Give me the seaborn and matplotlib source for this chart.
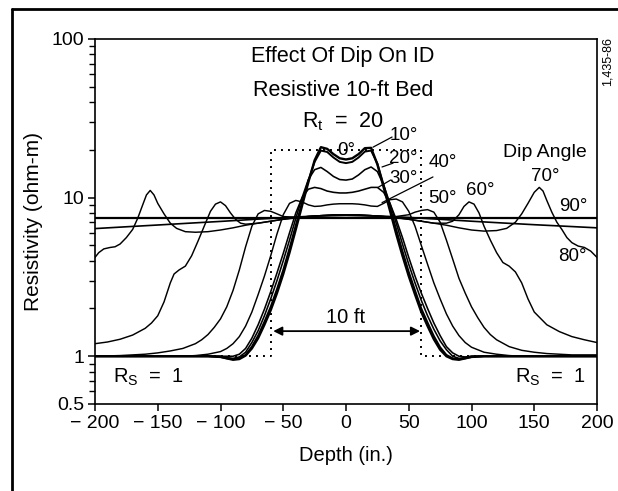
import matplotlib
matplotlib.use('Agg')
import matplotlib.pyplot as plt
import seaborn as sns
import pandas as pd
from matplotlib.ticker import FixedLocator, FixedFormatter, NullFormatter
from matplotlib.lines import Line2D

# ---------------- data ----------------
DEPTH = [-200, -190, -180, -170, -160, -150, -140, -130, -120, -110, -100,
         -95, -90, -85, -80, -75, -70, -65, -60, -55, -50, -45, -40, -35, -30,
         -25, -20, -15, -10, -5, 0, 5, 10, 15, 20, 25, 30, 35, 40, 45, 50, 55,
         60, 65, 70, 75, 80, 85, 90, 95,
         100, 110, 120, 130, 140, 150, 160, 170, 180, 190, 200]

DIP_0 = [1.0] * 10 + [0.99, 0.97, 0.95, 0.96, 1.01, 1.12, 1.3, 1.58, 1.95, 2.5,
         3.3, 4.5, 6.3, 8.9, 12.5, 17.2, 20.8, 20.3, 18.8, 17.7, 17.4, 17.7,
         18.8, 20.5, 20.6, 16.2, 11.6, 8.3, 5.9, 4.3, 3.2, 2.45, 1.9, 1.55,
         1.28, 1.1, 1.0, 0.96, 0.95, 0.97, 0.99] + [1.0] * 10
DIP_10 = [1.0] * 10 + [0.99, 0.97, 0.96, 0.97, 1.02, 1.15, 1.35, 1.65, 2.05,
          2.65, 3.5, 4.8, 6.7, 9.3, 12.8, 16.8, 19.8, 19.4, 17.9, 16.8, 16.5,
          16.8, 17.9, 19.5, 19.8, 16.4, 12.0, 8.7, 6.3, 4.6, 3.4, 2.6, 2.0,
          1.63, 1.34, 1.14, 1.02, 0.97, 0.96, 0.97, 0.99] + [1.0] * 10
DIP_20 = [1.0] * 10 + [1.0, 0.98, 0.97, 0.99, 1.06, 1.22, 1.45, 1.8, 2.3, 3.0,
          4.0, 5.4, 7.4, 10.0, 13.0, 15.0, 15.5, 14.6, 13.6, 13.0, 12.9, 13.1,
          13.9, 15.0, 15.6, 14.6, 12.0, 9.2, 6.9, 5.1, 3.8, 2.9, 2.25, 1.8,
          1.48, 1.25, 1.1, 1.0, 0.97, 0.98, 1.0] + [1.0] * 10
DIP_30 = [1.0] * 10 + [1.0, 1.0, 1.0, 1.03, 1.12, 1.3, 1.58, 1.98, 2.55, 3.35,
          4.45, 6.0, 8.0, 10.0, 11.3, 11.6, 11.4, 11.0, 10.8, 10.7, 10.7,
          10.8, 11.0, 11.3, 11.6, 11.6, 10.8, 9.2, 7.3, 5.6, 4.2, 3.2, 2.5,
          2.0, 1.62, 1.35, 1.15, 1.05, 1.0, 0.99, 1.0] + [1.0] * 10
DIP_40 = [1.0] * 8 + [1.01, 1.03, 1.07, 1.12, 1.2, 1.33, 1.55, 1.9, 2.45, 3.2,
          4.3, 5.9, 7.8, 9.2, 9.6, 9.4, 9.0, 8.8, 8.85, 9.0, 9.1, 9.15, 9.15,
          9.15, 9.1, 9.0, 8.85, 8.8, 9.2, 9.7, 9.8, 9.4, 8.2, 6.6, 5.0, 3.8,
          2.9, 2.3, 1.85, 1.55, 1.35, 1.22, 1.14, 1.06, 1.03, 1.01] + [1.0] * 7

DIP_50 = [(-200, 1.0), (-180, 1.01), (-160, 1.03), (-150, 1.05), (-140, 1.08),
          (-130, 1.12), (-120, 1.2), (-115, 1.27), (-110, 1.37), (-105, 1.52),
          (-100, 1.72), (-95, 2.05), (-90, 2.6), (-85, 3.5), (-80, 4.9),
          (-75, 6.6), (-70, 7.9), (-65, 8.3), (-60, 8.2), (-55, 7.9),
          (-50, 7.6), (-40, 7.5), (-30, 7.6), (-20, 7.7), (-10, 7.8), (0, 7.8),
          (10, 7.8), (20, 7.7), (30, 7.6), (40, 7.6), (50, 7.8), (55, 8.1),
          (60, 8.3), (65, 8.4), (70, 8.1), (75, 7.0), (80, 5.4), (85, 4.1),
          (90, 3.1), (95, 2.5), (100, 2.05), (105, 1.75), (110, 1.52),
          (115, 1.37), (120, 1.27), (130, 1.15), (140, 1.09), (150, 1.06),
          (160, 1.04), (180, 1.02), (200, 1.02)]
DIP_60 = [(-200, 1.2), (-190, 1.23), (-180, 1.28), (-170, 1.36), (-160, 1.5),
          (-155, 1.62), (-150, 1.8), (-145, 2.2), (-140, 2.9), (-137, 3.3),
          (-133, 3.5), (-128, 3.7), (-123, 4.3), (-118, 5.3), (-113, 6.6),
          (-108, 8.2), (-104, 9.1), (-100, 9.4), (-96, 8.9), (-92, 8.0),
          (-88, 7.3), (-84, 6.9), (-80, 6.8), (-70, 6.9), (-60, 7.1),
          (-50, 7.3), (-40, 7.5), (-30, 7.6), (-20, 7.7), (-10, 7.75), (0, 7.8),
          (10, 7.75), (20, 7.7), (30, 7.6), (40, 7.5), (50, 7.3), (60, 7.1),
          (70, 6.9), (80, 6.9), (85, 7.1), (90, 7.8), (94, 8.8), (98, 9.4),
          (102, 9.1), (106, 8.0), (110, 6.6), (115, 5.4), (120, 4.5),
          (125, 3.9), (130, 3.7), (135, 3.4), (140, 2.9), (145, 2.3),
          (150, 1.9), (160, 1.58), (170, 1.43), (180, 1.33), (190, 1.27),
          (200, 1.22)]
DIP_70 = [(-200, 4.2), (-197, 4.5), (-193, 4.75), (-188, 4.85), (-184, 4.9),
          (-180, 5.1), (-175, 5.6), (-170, 6.3), (-166, 7.4), (-162, 9.0),
          (-159, 10.4), (-156, 11.1), (-153, 10.4), (-150, 9.2), (-145, 7.9),
          (-140, 6.9), (-135, 6.4), (-128, 6.1), (-120, 6.05), (-110, 6.1),
          (-100, 6.25), (-90, 6.45), (-80, 6.7), (-70, 6.9), (-60, 7.1),
          (-50, 7.3), (-40, 7.45), (-30, 7.6), (-20, 7.7), (-10, 7.75),
          (0, 7.8), (10, 7.75), (20, 7.7), (30, 7.6), (40, 7.45), (50, 7.3),
          (60, 7.1), (70, 6.9), (80, 6.7), (90, 6.45), (100, 6.25),
          (110, 6.15), (120, 6.2), (128, 6.4), (135, 7.0), (140, 7.9),
          (145, 9.2), (150, 10.8), (154, 11.6), (157, 11.0), (160, 9.6),
          (164, 8.1), (168, 7.0), (172, 6.3), (176, 5.6), (180, 5.2),
          (185, 4.95), (190, 4.85), (195, 4.6), (200, 4.2)]
DIP_80 = [(-200, 6.38), (-175, 6.55), (-150, 6.72), (-125, 6.9), (-100, 7.08),
          (-75, 7.28), (-50, 7.48), (-25, 7.65), (0, 7.72), (25, 7.65),
          (50, 7.5), (75, 7.3), (100, 7.1), (125, 6.92), (150, 6.75),
          (175, 6.6), (200, 6.45)]
DIP_90 = [(-200, 7.45), (200, 7.45)]

BED_DEPTH = [-200, -60, -60, 60, 60, 200]
BED_R = [1, 1, 20, 20, 1, 1]

X_TICKS = [-200, -150, -100, -50, 0, 50, 100, 150, 200]
X_LABELS = ['\u2212 200', '\u2212 150', '\u2212 100', '\u2212 50', '0', '50',
            '100', '150', '200']
Y_TICKS = [0.5, 1, 10, 100]
Y_LABELS = ['0.5', '1', '10', '100']

# ---------------- style ----------------
sns.set_style('ticks')
plt.rcParams['font.family'] = ['Liberation Sans', 'DejaVu Sans']
plt.rcParams['mathtext.fontset'] = 'custom'
plt.rcParams['mathtext.rm'] = 'Liberation Sans'
plt.rcParams['mathtext.it'] = 'Liberation Sans'
plt.rcParams['text.color'] = 'black'
plt.rcParams['axes.labelcolor'] = 'black'
plt.rcParams['xtick.color'] = 'black'
plt.rcParams['ytick.color'] = 'black'

fig = plt.figure(figsize=(6.18, 4.91), dpi=100)
ax = fig.add_axes([95 / 618, 1 - 404 / 491, 502 / 618, 365 / 491])

# curves
grid_curves = [(DIP_0, 1.7), (DIP_10, 1.4), (DIP_20, 1.15), (DIP_30, 1.15),
               (DIP_40, 1.05)]
for vals, lw in grid_curves:
    sns.lineplot(x=DEPTH, y=vals, ax=ax, color='black', lw=lw,
                 sort=False, estimator=None)
pair_curves = [(DIP_50, 1.05), (DIP_60, 1.05), (DIP_70, 1.05), (DIP_80, 1.2),
               (DIP_90, 1.6)]
for pairs, lw in pair_curves:
    xs = [p[0] for p in pairs]
    ys = [p[1] for p in pairs]
    sns.lineplot(x=xs, y=ys, ax=ax, color='black', lw=lw, sort=False,
                 estimator=None)

# bed (true formation) dotted outline
sns.lineplot(x=BED_DEPTH, y=BED_R, ax=ax, color='black', lw=1.4,
             sort=False, estimator=None, linestyle=(0, (1, 2.6)))

ax.set_yscale('log')
ax.set_xlim(-200, 200)
ax.set_ylim(0.5, 100)
ax.xaxis.set_major_locator(FixedLocator(X_TICKS))
ax.xaxis.set_major_formatter(FixedFormatter(X_LABELS))
ax.yaxis.set_major_locator(FixedLocator(Y_TICKS))
ax.yaxis.set_major_formatter(FixedFormatter(Y_LABELS))
ax.yaxis.set_minor_locator(FixedLocator(
    [0.6, 0.7, 0.8, 0.9] + list(range(2, 10)) + list(range(20, 100, 10))))
ax.yaxis.set_minor_formatter(NullFormatter())
ax.tick_params(axis='both', which='major', direction='out', length=5,
               width=1.1, labelsize=14, colors='black', pad=3)
ax.tick_params(axis='y', which='minor', direction='out', length=4, width=1.0,
               colors='black')
for s in ax.spines.values():
    s.set_visible(True)
    s.set_linewidth(1.2)
    s.set_color('black')

ax.set_xlabel('Depth (in.)', fontsize=14.5, labelpad=10, color='black')
ax.set_ylabel('Resistivity (ohm-m)', fontsize=15, labelpad=6, color='black')

# annotation texts
tkw = dict(transform=ax.transAxes, ha='center', va='center', color='black')
ax.text(0.494, 0.951, 'Effect Of Dip On ID', fontsize=15.5, **tkw)
ax.text(0.494, 0.860, 'Resistive 10-ft Bed', fontsize=15.5, **tkw)
ax.text(0.494, 0.773, r'$\mathregular{R_t}$  =  20', fontsize=15.5, **tkw)
ax.text(0.896, 0.688, 'Dip Angle', fontsize=14, **tkw)
ax.text(0.106, 0.072, r'$\mathregular{R_S}$  =  1', fontsize=14.5, **tkw)
ax.text(0.907, 0.072, r'$\mathregular{R_S}$  =  1', fontsize=14.5, **tkw)
ax.text(0.499, 0.236, '10 ft', fontsize=14.5, **tkw)

deg = [('0\u00b0', 0.50, 0.694), ('10\u00b0', 0.616, 0.736),
       ('20\u00b0', 0.614, 0.672), ('30\u00b0', 0.614, 0.617),
       ('40\u00b0', 0.693, 0.662), ('50\u00b0', 0.693, 0.564),
       ('60\u00b0', 0.767, 0.584), ('70\u00b0', 0.896, 0.622),
       ('90\u00b0', 0.952, 0.540), ('80\u00b0', 0.950, 0.405)]
for t, x, y in deg:
    ax.text(x, y, t, fontsize=13.5, **tkw)

# leader lines
lkw = dict(arrowprops=dict(arrowstyle='-', color='black', lw=0.9,
                           shrinkA=0, shrinkB=0))
ax.annotate('', xy=(21.5, 20.8), xytext=(36.7, 24.1), **lkw)
ax.annotate('', xy=(28.7, 15.6), xytext=(37.5, 16.5), **lkw)
ax.annotate('', xy=(25.5, 11.6), xytext=(35.5, 12.9), **lkw)
ax.annotate('', xy=(28.7, 9.3), xytext=(69.3, 13.5), **lkw)

# 10 ft arrow
ax.annotate('', xy=(59, 1.44), xytext=(-58, 1.44),
            arrowprops=dict(arrowstyle='<|-|>', color='black', lw=1.3,
                            mutation_scale=13, shrinkA=0, shrinkB=0))

# figure frame and side code
fig.add_artist(Line2D([12 / 618, 12 / 618], [0, 1 - 9 / 491],
                      transform=fig.transFigure, color='black', lw=2.0))
fig.add_artist(Line2D([12 / 618, 1.0], [1 - 9 / 491, 1 - 9 / 491],
                      transform=fig.transFigure, color='black', lw=2.0))
fig.text(608 / 618, 1 - 62 / 491, '1,435-86', rotation=90, fontsize=9,
         ha='center', va='center', color='black')

fig.savefig('out.png', dpi=100)
